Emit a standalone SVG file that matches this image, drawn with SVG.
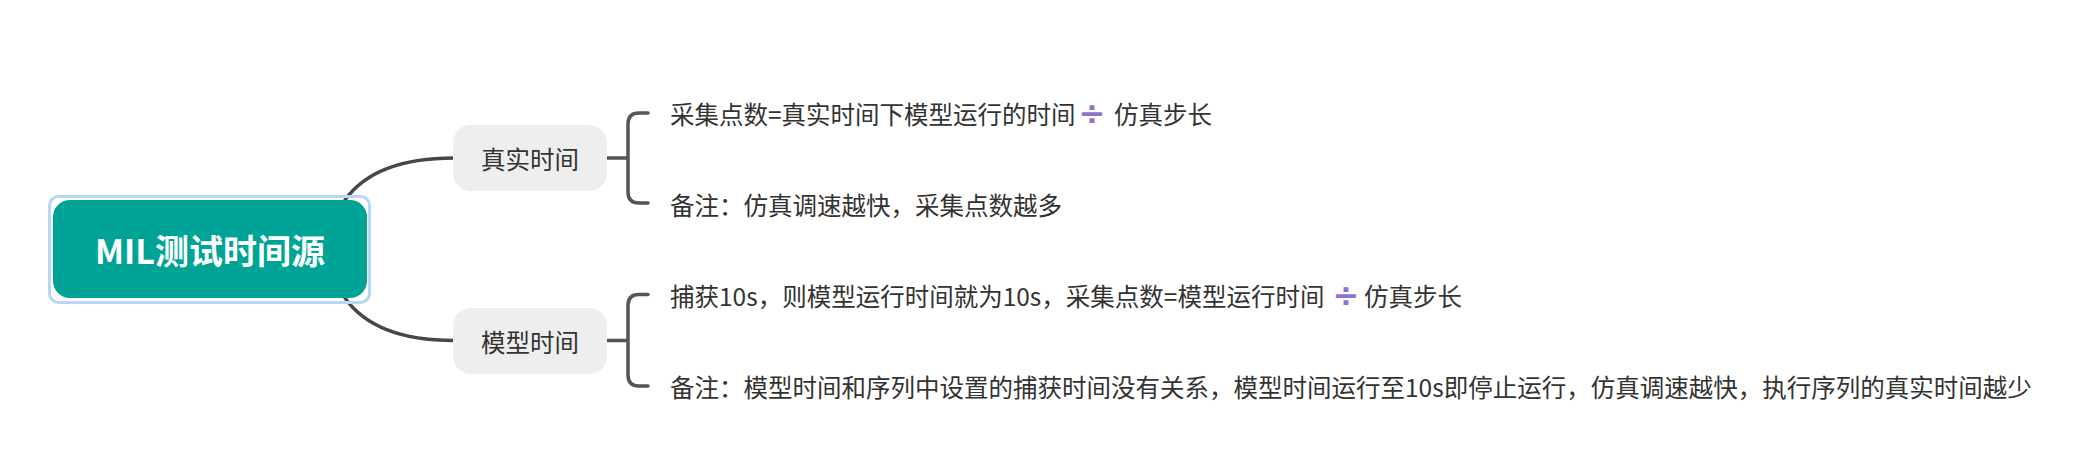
<svg xmlns="http://www.w3.org/2000/svg" width="2075" height="463" viewBox="0 0 2075 463">
<style>
.conn{fill:none;stroke:#474747;stroke-width:3.5;stroke-linecap:round}
.br{fill:none;stroke:#555555;stroke-width:3.5;stroke-linecap:round}
.sub{fill:#eeeeee}
.t{font-family:"Noto Sans CJK SC","Noto Sans",sans-serif;fill:#333333;dominant-baseline:central}
.lbl{font-size:24.5px}
.div{font-family:"DejaVu Sans","Noto Sans",sans-serif;fill:#8e72d0;font-weight:bold;font-size:32px;text-anchor:middle;dominant-baseline:central}
.root{font-family:"Noto Sans CJK SC","Noto Sans",sans-serif;fill:#ffffff;font-weight:bold;font-size:34px;dominant-baseline:central;text-anchor:middle}
</style>
<rect width="2075" height="463" fill="#ffffff"/>
<g id="connectors">
<path class="conn" d="M345,200 Q375,158 454,158"/>
<path class="conn" d="M345,298 Q375,340.5 454,340.5"/>
<path class="br" d="M607,158 H628 M648,113 H639 Q628,113 628,124 V192 Q628,203 639,203 H648"/>
<path class="br" d="M607,340.5 H628 M648,294.5 H639 Q628,294.5 628,305.5 V375 Q628,386 639,386 H648"/>
</g>
<g id="root">
<rect x="49.5" y="196.5" width="320" height="106" rx="9" fill="none" stroke="#b8d6f6" stroke-width="3"/>
<rect x="53" y="200" width="314" height="98" rx="17" fill="#00a497"/>
<text class="root" x="210" y="249">MIL测试时间源</text>
</g>
<g id="node-real">
<rect class="sub" x="453" y="125" width="154" height="66" rx="18"/>
<text class="t lbl" x="530" y="158" text-anchor="middle">真实时间</text>
</g>
<g id="node-model">
<rect class="sub" x="453" y="308" width="154" height="66" rx="18"/>
<text class="t lbl" x="530" y="341" text-anchor="middle">模型时间</text>
</g>
<g id="label-real-1">
<text class="t lbl" y="113"><tspan x="670">采集点数=真实时间下模型运行的时间</tspan><tspan x="1114">仿真步长</tspan></text>
<text class="div" x="1092" y="113">÷</text>
</g>
<g id="label-real-2">
<text class="t lbl" x="670" y="204">备注：仿真调速越快，采集点数越多</text>
</g>
<g id="label-model-1">
<text class="t lbl" y="295"><tspan x="670">捕获10s，则模型运行时间就为10s，采集点数=模型运行时间</tspan><tspan x="1364">仿真步长</tspan></text>
<text class="div" x="1346" y="295">÷</text>
</g>
<g id="label-model-2">
<text class="t lbl" x="670" y="386">备注：模型时间和序列中设置的捕获时间没有关系，模型时间运行至10s即停止运行，仿真调速越快，执行序列的真实时间越少</text>
</g>
</svg>
